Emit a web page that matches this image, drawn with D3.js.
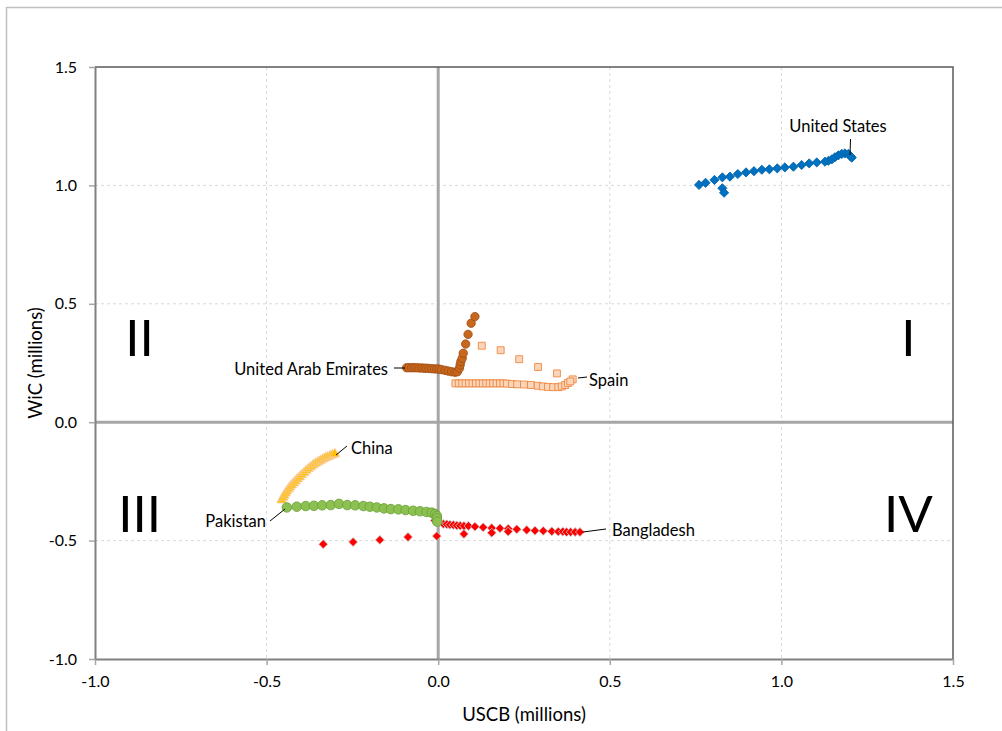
<!DOCTYPE html>
<html>
<head>
<meta charset="utf-8">
<script src="https://cdnjs.cloudflare.com/ajax/libs/d3/7.8.5/d3.min.js"></script>
<style>
body { margin: 0; background: #fff; }
text { font-family: Lato, "Open Sans", sans-serif; }
</style>
</head>
<body>
<div id="chart"></div>
<script>
// tick values on both axes (millions)
var xTicks = [-1.0, -0.5, 0.0, 0.5, 1.0, 1.5]
var yTicks = [-1.0, -0.5, 0.0, 0.5, 1.0, 1.5]

// [USCB, WiC] pairs
var unitedStates = [[0.760,1.002],[0.779,1.011],[0.805,1.023],[0.828,1.034],[0.850,1.037],[0.873,1.048],[0.897,1.055],[0.920,1.060],[0.943,1.066],[0.965,1.068],[0.988,1.072],[1.010,1.076],[1.035,1.079],[1.059,1.086],[1.081,1.093],[1.103,1.097],[1.127,1.100],[1.137,1.104],[1.147,1.110],[1.156,1.119],[1.166,1.127],[1.176,1.133],[1.185,1.135],[1.195,1.133],[1.202,1.122],[1.205,1.117],[0.828,0.988],[0.833,0.969]]

var uae = [[-0.092,0.230],[-0.085,0.230],[-0.077,0.230],[-0.070,0.230],[-0.063,0.230],[-0.055,0.229],[-0.048,0.229],[-0.041,0.228],[-0.034,0.228],[-0.027,0.227],[-0.019,0.226],[-0.011,0.225],[-0.004,0.225],[0.003,0.224],[0.010,0.222],[0.020,0.219],[0.029,0.216],[0.039,0.213],[0.049,0.211],[0.056,0.213],[0.062,0.228],[0.064,0.242],[0.066,0.256],[0.070,0.270],[0.073,0.291],[0.080,0.330],[0.087,0.371],[0.096,0.418],[0.107,0.446]]

var spain = [[0.127,0.323],[0.182,0.304],[0.236,0.266],[0.291,0.233],[0.346,0.206],[0.392,0.181],[0.050,0.164],[0.060,0.164],[0.070,0.164],[0.080,0.164],[0.090,0.164],[0.100,0.164],[0.110,0.164],[0.120,0.164],[0.130,0.164],[0.140,0.164],[0.150,0.164],[0.160,0.164],[0.170,0.164],[0.180,0.164],[0.190,0.164],[0.200,0.163],[0.215,0.161],[0.230,0.160],[0.250,0.159],[0.270,0.157],[0.290,0.154],[0.305,0.151],[0.320,0.149],[0.335,0.148],[0.350,0.148],[0.360,0.151],[0.370,0.157],[0.378,0.165],[0.385,0.172]]

var china = [[-0.456,-0.329],[-0.452,-0.318],[-0.449,-0.309],[-0.445,-0.300],[-0.441,-0.291],[-0.436,-0.282],[-0.432,-0.274],[-0.427,-0.266],[-0.421,-0.257],[-0.416,-0.249],[-0.410,-0.240],[-0.404,-0.232],[-0.398,-0.223],[-0.391,-0.214],[-0.385,-0.205],[-0.378,-0.197],[-0.371,-0.189],[-0.364,-0.181],[-0.357,-0.174],[-0.350,-0.168],[-0.343,-0.162],[-0.336,-0.156],[-0.329,-0.151],[-0.322,-0.147],[-0.315,-0.142],[-0.308,-0.138],[-0.301,-0.134]]

var bangladesh = [[0.015,-0.430],[0.025,-0.431],[0.034,-0.433],[0.044,-0.434],[0.054,-0.436],[0.064,-0.437],[0.075,-0.438],[0.088,-0.438],[0.107,-0.441],[0.131,-0.444],[0.156,-0.447],[0.180,-0.448],[0.204,-0.450],[0.229,-0.452],[0.258,-0.455],[0.282,-0.458],[0.306,-0.459],[0.331,-0.461],[0.350,-0.462],[0.363,-0.462],[0.374,-0.464],[0.386,-0.464],[0.399,-0.464],[0.413,-0.464],[0.075,-0.472],[0.156,-0.467],[0.204,-0.462],[-0.004,-0.481],[-0.088,-0.485],[-0.170,-0.497],[-0.248,-0.506],[-0.335,-0.515],[-0.010,-0.415],[0.000,-0.422]]

var pakistan = [[-0.441,-0.360],[-0.412,-0.357],[-0.386,-0.354],[-0.362,-0.353],[-0.338,-0.351],[-0.313,-0.350],[-0.289,-0.345],[-0.265,-0.350],[-0.242,-0.351],[-0.218,-0.354],[-0.199,-0.357],[-0.179,-0.360],[-0.158,-0.364],[-0.138,-0.367],[-0.116,-0.368],[-0.095,-0.371],[-0.073,-0.374],[-0.053,-0.376],[-0.034,-0.379],[-0.019,-0.382],[-0.009,-0.388],[-0.004,-0.396],[-0.004,-0.406],[-0.003,-0.420]]

var width = 1002, height = 731
var plot = {left: 95, right: 953, top: 67, bottom: 659}

var svg = d3.select("#chart").append("svg")
  .attr("width", width)
  .attr("height", height)

// outer chart border
svg.append("rect")
  .attr("x", 6.5).attr("y", 7.5)
  .attr("width", 1000).attr("height", 730)
  .attr("fill", "none")
  .attr("stroke", "#bfbfbf")
  .attr("stroke-width", 1.5)

var x = d3.scaleLinear().domain([-1, 1.5]).range([plot.left, plot.right])
var y = d3.scaleLinear().domain([-1, 1.5]).range([plot.bottom, plot.top])

// dashed grid
svg.append("g").selectAll("line")
  .data(xTicks.filter(function(d){ return d != 0 && d != -1 && d != 1.5 }))
  .enter().append("line")
    .attr("x1", function(d){ return x(d) }).attr("x2", function(d){ return x(d) })
    .attr("y1", plot.top).attr("y2", plot.bottom)
    .attr("stroke", "#d9d9d9").attr("stroke-dasharray", "3,3")
svg.append("g").selectAll("line")
  .data(yTicks.filter(function(d){ return d != 0 && d != -1 && d != 1.5 }))
  .enter().append("line")
    .attr("y1", function(d){ return y(d) }).attr("y2", function(d){ return y(d) })
    .attr("x1", plot.left).attr("x2", plot.right)
    .attr("stroke", "#d9d9d9").attr("stroke-dasharray", "3,3")

// zero lines
svg.append("line")
  .attr("x1", x(0)).attr("x2", x(0)).attr("y1", plot.top).attr("y2", plot.bottom)
  .attr("stroke", "#a6a6a6").attr("stroke-width", 3)
svg.append("line")
  .attr("y1", y(0)).attr("y2", y(0)).attr("x1", plot.left).attr("x2", plot.right)
  .attr("stroke", "#a6a6a6").attr("stroke-width", 3)

// top and right frame
svg.append("path")
  .attr("d", "M" + plot.left + "," + plot.top + "H" + plot.right + "V" + plot.bottom)
  .attr("fill", "none").attr("stroke", "#595959").attr("stroke-width", 1.5)

// axes (plain hyphen minus like the original)
var fmt = function(d){ return d.toFixed(1) }
var xAxis = svg.append("g")
  .attr("transform", "translate(0," + plot.bottom + ")")
  .call(d3.axisBottom(x).tickValues(xTicks).tickFormat(fmt).tickSize(6).tickPadding(11).tickSizeOuter(0))
var yAxis = svg.append("g")
  .attr("transform", "translate(" + plot.left + ",0)")
  .call(d3.axisLeft(y).tickValues(yTicks).tickFormat(fmt).tickSize(6).tickPadding(12).tickSizeOuter(0))

;[xAxis, yAxis].forEach(function(a){
  a.select(".domain").attr("stroke", "#808080").attr("stroke-width", 2)
  a.selectAll(".tick line").attr("stroke", "#a6a6a6").attr("stroke-width", 1.5)
  a.selectAll(".tick text").attr("fill", "#000").style("font-size", "16px").style("font-family", "Lato")
})

// axis titles
svg.append("text")
  .attr("x", (plot.left + plot.right) / 2).attr("y", 721)
  .attr("text-anchor", "middle")
  .style("font-size", "18.5px")
  .text("USCB (millions)")
svg.append("text")
  .attr("transform", "translate(42," + (plot.top + plot.bottom) / 2 + ") rotate(-90)")
  .attr("text-anchor", "middle")
  .style("font-size", "18.5px")
  .text("WiC (millions)")

// quadrant numerals
var quadrants = [["II", -0.87, 0.28], ["I", 1.37, 0.28], ["III", -0.87, -0.465], ["IV", 1.37, -0.465]]
svg.append("g").selectAll("text")
  .data(quadrants).enter().append("text")
    .attr("x", function(d){ return x(d[1]) })
    .attr("y", function(d){ return y(d[2]) })
    .attr("text-anchor", "middle")
    .style("font-size", "51px")
    .text(function(d){ return d[0] })

function drawSeries(data, shape, size, fill, stroke, rotate) {
  var sym = d3.symbol().type(shape).size(size)
  svg.append("g").selectAll("path")
    .data(data).enter().append("path")
      .attr("d", sym)
      .attr("transform", function(d){
        return "translate(" + x(d[0]) + "," + y(d[1]) + ")" + (rotate ? " rotate(45)" : "")
      })
      .attr("fill", fill)
      .attr("stroke", stroke)
      .attr("stroke-width", 0.8)
}

drawSeries(unitedStates, d3.symbolSquare, 42, "#0070c0", "#0062a8", true)
drawSeries(spain, d3.symbolSquare, 48, "#fbd5b9", "#ed7d31", false)
drawSeries(uae, d3.symbolCircle, 55, "#c8681f", "#9e4a10", false)
drawSeries(china, d3.symbolTriangle, 42, "#ffc000", "#f8cbad", false)
drawSeries(bangladesh, d3.symbolSquare, 40, "#ff0000", "#c9c9c9", true)
drawSeries(pakistan, d3.symbolCircle, 72, "#8cc152", "#6a9e36", false)

// series labels with leader lines
var labels = [
  {text: "United States", tx: 838, ty: 132, anchor: "middle", line: [850.5, 139, 850, 155]},
  {text: "United Arab Emirates", tx: 388, ty: 375, anchor: "end", line: [394, 368, 405, 368]},
  {text: "Spain", tx: 589, ty: 386, anchor: "start", line: [578, 378, 587, 377]},
  {text: "China", tx: 351, ty: 454, anchor: "start", line: [347, 446, 336, 455]},
  {text: "Pakistan", tx: 266, ty: 527, anchor: "end", line: [270, 521, 285, 509]},
  {text: "Bangladesh", tx: 612, ty: 536, anchor: "start", line: [583, 532, 606, 529]}
]
var lab = svg.append("g")
labels.forEach(function(l){
  lab.append("line")
    .attr("x1", l.line[0]).attr("y1", l.line[1]).attr("x2", l.line[2]).attr("y2", l.line[3])
    .attr("stroke", "#000").attr("stroke-width", 1)
  lab.append("text")
    .attr("x", l.tx).attr("y", l.ty)
    .attr("text-anchor", l.anchor)
    .style("font-size", "16.5px")
    .text(l.text)
})
</script>
</body>
</html>
